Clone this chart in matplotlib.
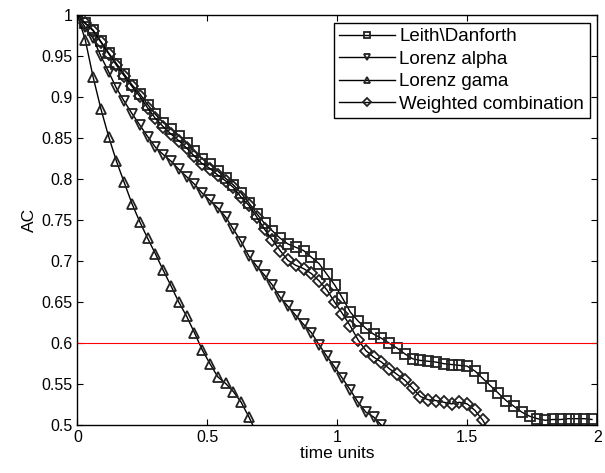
import numpy as np
import matplotlib
matplotlib.use("Agg")
import matplotlib.pyplot as plt
from matplotlib.ticker import FuncFormatter

plt.rcParams['font.family'] = ['Liberation Sans', 'DejaVu Sans']

dt = 0.03

# Leith\Danforth (squares)
leith = [1.0, 0.990, 0.982, 0.968, 0.954, 0.941, 0.928, 0.915, 0.904, 0.891,
         0.879, 0.869, 0.861, 0.853, 0.844, 0.834, 0.825, 0.818, 0.810, 0.801,
         0.793, 0.783, 0.771, 0.758, 0.746, 0.737, 0.728, 0.721, 0.717, 0.713,
         0.705, 0.697, 0.684, 0.671, 0.655, 0.638, 0.627, 0.618, 0.611, 0.606,
         0.600, 0.594, 0.587, 0.581, 0.579, 0.578, 0.577, 0.575, 0.574, 0.573,
         0.572, 0.566, 0.557, 0.548, 0.539, 0.530, 0.523, 0.516, 0.511, 0.508,
         0.506, 0.507, 0.507, 0.508, 0.508, 0.508, 0.507]

# Lorenz alpha (down triangles)
alpha = [1.0, 0.985, 0.972, 0.950, 0.931, 0.911, 0.895, 0.880, 0.866, 0.852,
         0.839, 0.830, 0.822, 0.812, 0.803, 0.794, 0.783, 0.774, 0.765, 0.754,
         0.739, 0.724, 0.706, 0.694, 0.683, 0.671, 0.656, 0.645, 0.634, 0.623,
         0.613, 0.598, 0.584, 0.571, 0.557, 0.543, 0.528, 0.516, 0.510, 0.500,
         0.485]

# Lorenz gama (up triangles)
gama = [1.0, 0.970, 0.925, 0.886, 0.852, 0.822, 0.796, 0.770, 0.748, 0.728,
        0.709, 0.689, 0.670, 0.650, 0.633, 0.613, 0.592, 0.575, 0.559, 0.551,
        0.541, 0.528, 0.510, 0.490]

# Weighted combination (diamonds)
weighted = [1.0, 0.990, 0.981, 0.967, 0.953, 0.939, 0.926, 0.913, 0.901, 0.887,
            0.874, 0.864, 0.855, 0.847, 0.838, 0.828, 0.819, 0.813, 0.805, 0.798,
            0.790, 0.778, 0.768, 0.754, 0.739, 0.726, 0.713, 0.701, 0.695, 0.691,
            0.685, 0.676, 0.665, 0.650, 0.636, 0.621, 0.604, 0.591, 0.583, 0.577,
            0.569, 0.562, 0.555, 0.545, 0.535, 0.531, 0.530, 0.528, 0.526, 0.528,
            0.526, 0.518, 0.506, 0.490]

series = [
    ("Leith\\Danforth", leith, 's'),
    ("Lorenz alpha", alpha, 'v'),
    ("Lorenz gama", gama, '^'),
    ("Weighted combination", weighted, 'D'),
]

fig = plt.figure(figsize=(6.05, 4.73), dpi=100)
ax = fig.add_axes([0.128, 0.101, 0.859, 0.867])

for name, vals, mk in series:
    t = np.arange(len(vals)) * dt
    ms = 6 if mk == 'D' else 7
    ax.plot(t, vals, '-', color='black', lw=1.0, marker=mk, ms=ms,
            mfc='none', mec='#222222', mew=1.3, label=name)

ax.axhline(0.6, color='red', lw=0.8)

ax.set_xlim(0, 2)
ax.set_ylim(0.5, 1)
ax.set_xticks([0, 0.5, 1, 1.5, 2])
ax.set_yticks(np.arange(0.5, 1.001, 0.05))
fmt = FuncFormatter(lambda v, p: "%g" % round(v, 2))
ax.xaxis.set_major_formatter(fmt)
ax.yaxis.set_major_formatter(fmt)
ax.tick_params(direction='in', top=True, right=True, length=4, labelsize=11.5)
for s in ax.spines.values():
    s.set_linewidth(1.0)

ax.set_xlabel("time units", fontsize=12.5, labelpad=1)
ax.set_ylabel("AC", fontsize=12.5, labelpad=3)

leg = ax.legend(loc='upper right', fontsize=13.5, fancybox=False, framealpha=1,
                edgecolor='black', handlelength=3.0, handletextpad=0.2,
                labelspacing=0.28, borderpad=0.3, markerscale=0.7,
                borderaxespad=0.4)
leg.get_frame().set_linewidth(1.0)

plt.savefig("out.png", dpi=100)
